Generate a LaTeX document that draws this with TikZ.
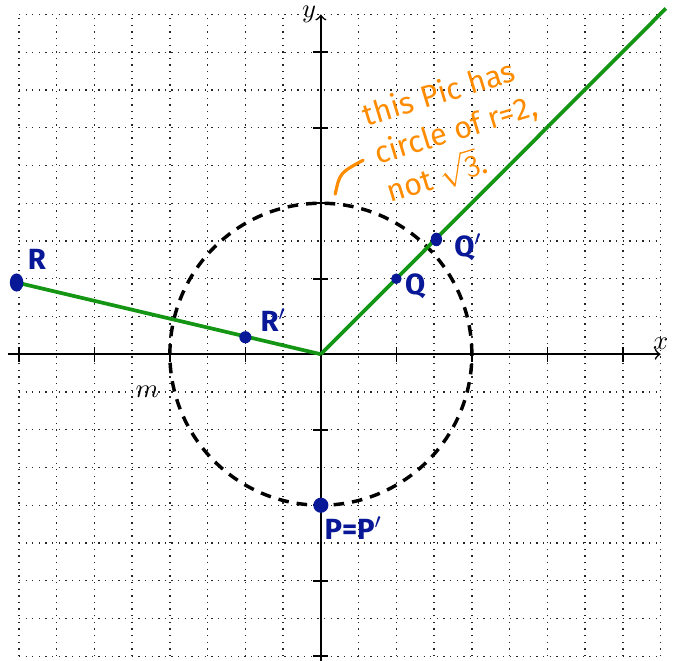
\documentclass[tikz,border=0pt]{standalone}
\usepackage{fontspec}
\newfontfamily\handfont{Fira Sans}
\definecolor{ptblue}{RGB}{8,24,150}
\definecolor{lngreen}{RGB}{20,150,20}
\definecolor{annorange}{RGB}{255,140,0}
\begin{document}
\begin{tikzpicture}[x=1cm,y=1cm,
  gridline/.style={dotted,line width=0.5pt,black!85},
  axisline/.style={line width=0.6pt,->,>=to},
  tickline/.style={line width=0.6pt},
  greenline/.style={lngreen,line width=1.4pt},
  circline/.style={line width=1.3pt,dash pattern=on 4pt off 3pt},
  ptdot/.style={fill=ptblue},
  ptlabel/.style={text=ptblue,font=\handfont\bfseries\fontsize{11}{13}\selectfont,inner sep=0pt},
  annot/.style={text=annorange,font=\handfont\fontsize{11.5}{15}\selectfont,rotate=17,inner sep=0pt,align=left},
  axlabel/.style={inner sep=1pt}]
\useasboundingbox (-4.25,-4.05) rectangle (4.664,4.692);
% grid
\draw[gridline] (-4,-4) grid[step=0.5] (4.5,4.5);
% named points
\coordinate (O) at (0,0);
\coordinate (Xs) at (-4.15,0);
\coordinate (Xe) at (4.5,0);
\coordinate (Ys) at (0,-4.1);
\coordinate (Ye) at (0,4.5);
\coordinate (R) at (-4.03,0.95);
\coordinate (Rp) at (-1.0,0.225);
\coordinate (Q) at (1.0,1.0);
\coordinate (Qp) at (1.53,1.52);
\coordinate (P) at (0,-2);
\coordinate (E) at (4.57,4.58);
% axes
\draw[axisline] (Xs) -- (Xe);
\draw[axisline] (Ys) -- (Ye);
\foreach \i in {-4,-3,-2,-1,1,2,3,4}{
  \draw[tickline] (\i,-0.1) -- (\i,0.1);
  \draw[tickline] (-0.1,\i) -- (0.1,\i);
}
\node[axlabel,above] (xl) at (4.5,0.02) {$x$};
\node[axlabel,left] (yl) at (-0.02,4.5) {$y$};
% circle
\draw[circline] (O) circle[radius=2];
\node (ml) at (-2.30,-0.50) {$m$};
% green lines
\draw[greenline] (R) -- (O);
\draw[greenline] (O) -- (E);
% dots
\fill[ptdot] (R) ellipse[x radius=0.09,y radius=0.12];
\fill[ptdot] (Rp) circle[radius=0.08];
\fill[ptdot] (Q) circle[radius=0.07];
\fill[ptdot] (Qp) ellipse[x radius=0.075,y radius=0.09];
\fill[ptdot] (P) circle[radius=0.1];
% point labels
\node[ptlabel] (Rl) at (-3.76,1.25) {R};
\node[ptlabel] (Rpl) at (-0.63,0.45) {R$'$};
\node[ptlabel] (Ql) at (1.25,0.9) {Q};
\node[ptlabel] (Qpl) at (1.95,1.42) {Q$'$};
\node[ptlabel] (Pl) at (0.43,-2.30) {P=P$'$};
% annotation
\node[annot] (ann) at (1.79,2.96) {this Pic has\\circle of r=2,\\not $\sqrt{\mathsf{3}}$.};
\coordinate (c1) at (0.19,2.12);
\coordinate (c2) at (0.56,2.57);
\draw[annorange,line width=1.2pt,line cap=round] (c1) .. controls (0.25,2.4) .. (c2);
\end{tikzpicture}
\end{document}
